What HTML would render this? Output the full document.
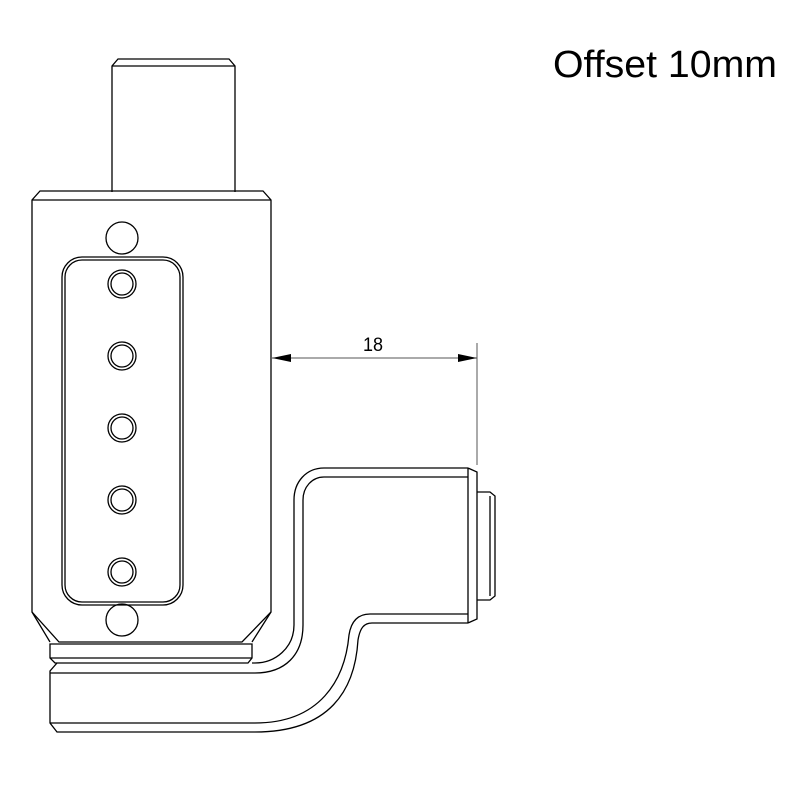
<!DOCTYPE html>
<html><head><style>body{margin:0;background:#fff}svg{display:block}</style></head><body>
<svg width="800" height="800" viewBox="0 0 800 800" xmlns="http://www.w3.org/2000/svg">
<g fill="none" stroke="#000" stroke-width="1.3">
<!-- pin -->
<path d="M112,192 V66 L118,59 H229 L235,66 V192"/>
<line x1="112" y1="66" x2="235" y2="66"/>
<!-- body -->
<path d="M32,612 V200 L40,191 H263 L271,200 V612 L242,642 H59 Z"/>
<line x1="32" y1="200" x2="271" y2="200"/>
<path d="M32,612 L50,642 M271,612 L252,642"/>
<!-- slot -->
<rect x="62" y="257" width="121" height="348" rx="20"/>
<rect x="65" y="260" width="115" height="342" rx="17"/>
<circle cx="122" cy="238" r="16"/>
<circle cx="122" cy="620" r="16"/>
<g>
<circle cx="122" cy="284" r="14"/><circle cx="122" cy="284" r="11"/>
<circle cx="122" cy="356" r="14"/><circle cx="122" cy="356" r="11"/>
<circle cx="122" cy="428" r="14"/><circle cx="122" cy="428" r="11"/>
<circle cx="122" cy="500" r="14"/><circle cx="122" cy="500" r="11"/>
<circle cx="122" cy="572" r="14"/><circle cx="122" cy="572" r="11"/>
</g>
<!-- ring -->
<path d="M50,644 H252 V658 L248,663 H55 L50,658 Z"/>
<line x1="50" y1="658" x2="252" y2="658"/>
<!-- bottom plate -->
<path d="M57,663 L50,671 V723 L57,732 H255"/>
<line x1="50" y1="673" x2="255" y2="673"/>
<line x1="50" y1="723" x2="255" y2="723"/>
<!-- bracket outer -->
<path d="M252,663 H255 C275,663 294,648 294,625 V500 C294,482 306,468 324,468 H468"/>
<path d="M255,673 C285,673 303,655 303,625 V500 C303,487 312,477 324,477 H468"/>
<path d="M255,723 C320,723 345,680 349,635 C351,622 357,614 370,614 H468"/>
<path d="M255,732 C330,732 355,690 358,640 C360,628 364,623 372,623 H468"/>
<path d="M468,468 V623 M468,468 L477,472 V619 L468,623"/>
<!-- button -->
<path d="M477,492 H490 L495,496 V596 L490,600 H477"/>
<line x1="490" y1="496" x2="490" y2="596"/>
</g>
<!-- dimension -->
<g stroke="#555" stroke-width="1">
<line x1="272" y1="358" x2="477" y2="358"/>
<line x1="477" y1="343" x2="477" y2="465"/>
</g>
<path d="M272,358 L291,354 L291,362 Z M477,358 L458,354 L458,362 Z" fill="#000"/>
<text x="373" y="351" font-family="Liberation Sans, sans-serif" font-size="19" text-anchor="middle" textLength="20" lengthAdjust="spacingAndGlyphs">18</text>
<text x="553" y="77" font-family="Liberation Sans, sans-serif" font-size="38" textLength="224" lengthAdjust="spacingAndGlyphs">Offset 10mm</text>
</svg>
</body></html>
